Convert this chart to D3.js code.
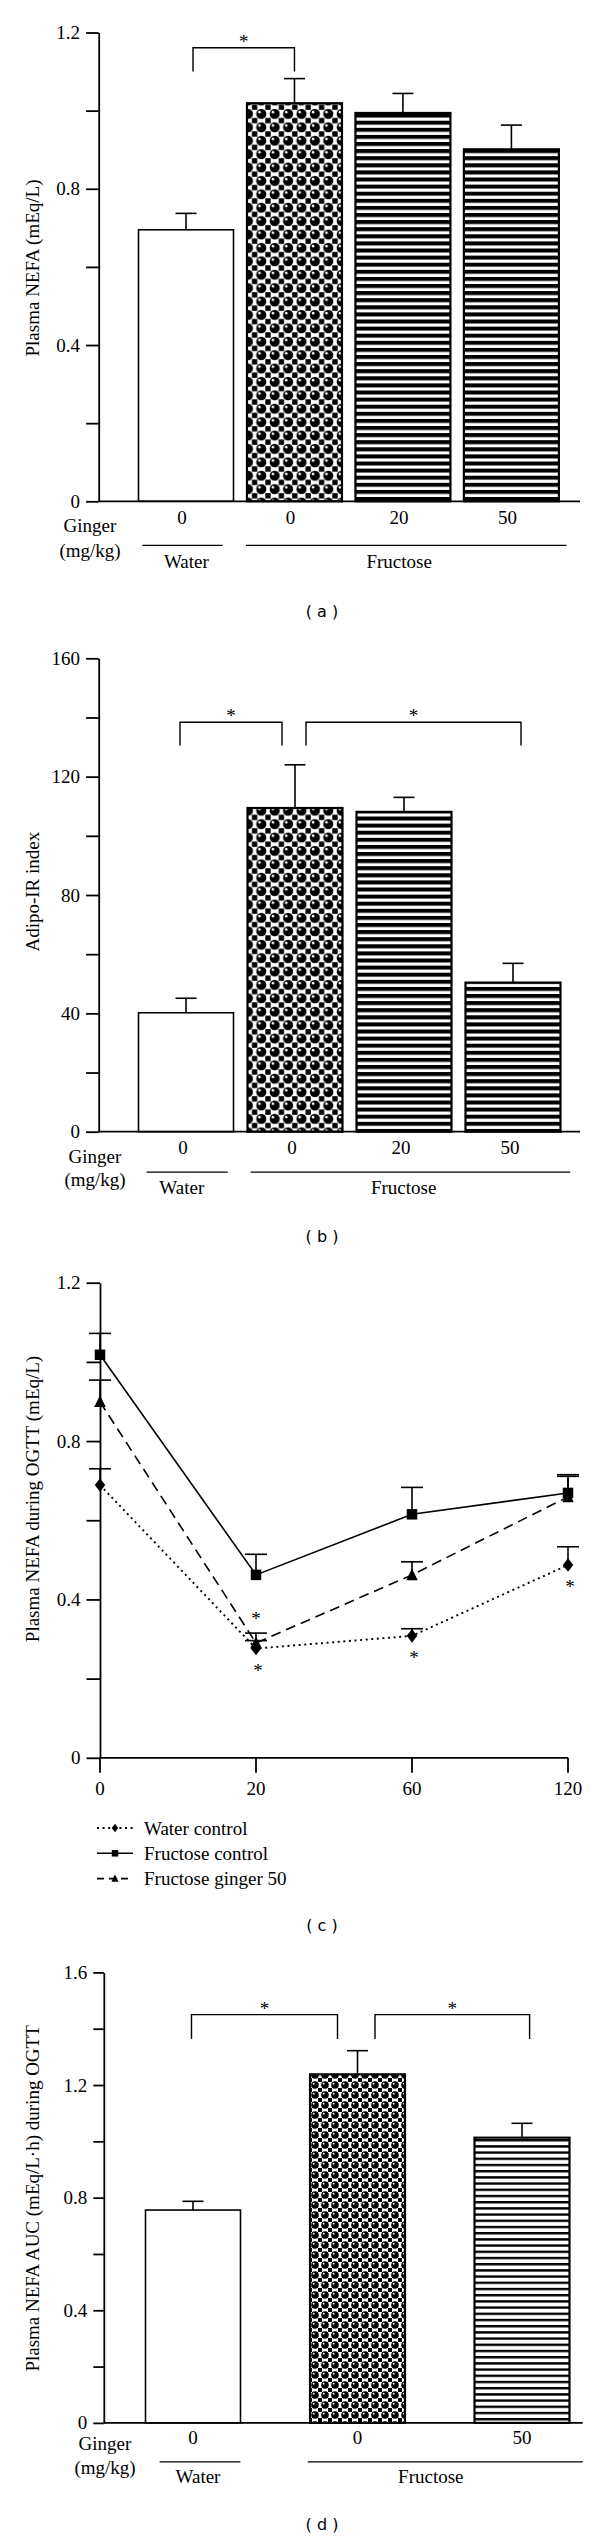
<!DOCTYPE html>
<html><head><meta charset="utf-8">
<script src="https://cdn.jsdelivr.net/npm/d3@7/dist/d3.min.js"></script>
<style>body{margin:0;background:#fff}</style>
</head><body><svg id="c" width="600" height="2541"></svg>
<script>
// ---------- DATA ----------
const groupsA = ["Water 0", "Fructose 0", "Fructose 20", "Fructose 50"];
const doseLabelsA = ["0", "0", "20", "50"];
const nefaMean = [0.695, 1.019, 0.994, 0.901];
const nefaSem = [0.042, 0.063, 0.050, 0.062];
const adipoMean = [40.2, 109.4, 108.1, 50.4];
const adipoSem = [4.9, 14.6, 4.9, 6.5];

const timePoints = ["0", "20", "60", "120"];
const seriesNames = ["Water control", "Fructose control", "Fructose ginger 50"];
const waterCtl = [0.689, 0.276, 0.308, 0.487];
const waterCtlSem = [0.041, 0.020, 0.018, 0.046];
const fructCtl = [1.018, 0.462, 0.615, 0.669];
const fructCtlSem = [0.054, 0.052, 0.068, 0.046];
const fructGinger = [0.899, 0.290, 0.462, 0.659];
const fructGingerSem = [0.055, 0.025, 0.033, 0.052];

const groupsD = ["Water 0", "Fructose 0", "Fructose 50"];
const doseLabelsD = ["0", "0", "50"];
const aucMean = [0.756, 1.238, 1.013];
const aucSem = [0.031, 0.084, 0.051];

const ticksA = [0, 0.2, 0.4, 0.6, 0.8, 1.0, 1.2];
const labelsA = [0, 0.4, 0.8, 1.2];
const ticksB = [0, 20, 40, 60, 80, 100, 120, 140, 160];
const labelsB = [0, 40, 80, 120, 160];
const ticksC = [0, 0.2, 0.4, 0.6, 0.8, 1.0, 1.2];
const labelsC = [0, 0.4, 0.8, 1.2];
const ticksD = [0, 0.2, 0.4, 0.6, 0.8, 1.0, 1.2, 1.4, 1.6];
const labelsD = [0, 0.4, 0.8, 1.2, 1.6];

// ---------- DRAWING ----------
const SERIF = "'Liberation Serif','DejaVu Serif',serif";
const SANS = "'DejaVu Sans','Liberation Sans',sans-serif";
const FS = 19;
const svg = d3.select("#c");
svg.append("rect").attr("width", 600).attr("height", 2541).attr("fill", "#fff");
const defs = svg.append("defs");

function dotPattern(id, s, r) {
  const p = defs.append("pattern").attr("id", id).attr("patternUnits", "userSpaceOnUse")
    .attr("width", s).attr("height", s);
  p.append("rect").attr("width", s).attr("height", s).attr("fill", "#fff");
  const q = s * 0.2;
  [[0, 0], [s - q, 0], [0, s - q], [s - q, s - q]].forEach(([x, y]) =>
    p.append("rect").attr("x", x).attr("y", y).attr("width", q).attr("height", q).attr("fill", "#000"));
  p.append("circle").attr("cx", s / 2).attr("cy", s / 2).attr("r", r).attr("fill", "#000");
  p.append("circle").attr("cx", s / 2 - r * 0.35).attr("cy", s / 2 - r * 0.35).attr("r", r * 0.25).attr("fill", "#fff");
}
function stripePattern(id, period, black) {
  const p = defs.append("pattern").attr("id", id).attr("patternUnits", "userSpaceOnUse")
    .attr("width", 10).attr("height", period);
  p.append("rect").attr("width", 10).attr("height", period).attr("fill", "#fff");
  p.append("rect").attr("y", 0).attr("width", 10).attr("height", black).attr("fill", "#000");
}
dotPattern("dotsL", 13.4, 5.1);
dotPattern("dotsS", 10, 3.8);
stripePattern("stripesL", 7.1, 4);
stripePattern("stripesS", 6.2, 2.4);

function yAxis(g, y, x0, ticks, labels, tickLen, fmt) {
  const ax = d3.axisLeft(y).tickValues(ticks).tickSize(tickLen).tickSizeOuter(0).tickPadding(6)
    .tickFormat(d => labels.some(l => Math.abs(l - d) < 1e-9) ? fmt(d) : "");
  const a = g.append("g").attr("transform", `translate(${x0},0)`).call(ax);
  a.selectAll("path,line").attr("stroke", "#000").attr("stroke-width", 1.8);
  a.selectAll("text").attr("font-family", SERIF).attr("font-size", FS).attr("fill", "#000");
  return a;
}
function yTitle(g, text, cx, cy) {
  g.append("text").attr("transform", `translate(${cx},${cy}) rotate(-90)`)
    .attr("text-anchor", "middle").attr("dominant-baseline", "central")
    .attr("font-family", SERIF).attr("font-size", FS).text(text);
}
function star(g, x, cy) {
  g.append("text").attr("x", x).attr("y", cy + 10).attr("text-anchor", "middle")
    .attr("font-family", SERIF).attr("font-size", FS).text("*");
}
function panelLabel(letter, cy) {
  svg.append("text").attr("x", 322).attr("y", cy).attr("text-anchor", "middle")
    .attr("dominant-baseline", "central").attr("font-family", SANS).attr("font-size", 16)
    .text(`( ${letter} )`);
}
const fmt1 = d => d === 0 ? "0" : d3.format(".1f")(d);
const fmt0 = d => String(d);

function barPanel(c) {
  const g = svg.append("g");
  const y = d3.scaleLinear().domain([0, c.yMax]).range([c.y0, c.yTop]);
  const x = d3.scalePoint().domain(c.cats).range(c.xRange);
  g.selectAll("rect.bar").data(c.cats).join("rect")
    .attr("x", d => x(d) - c.barW / 2).attr("width", c.barW)
    .attr("y", (d, i) => y(c.mean[i])).attr("height", (d, i) => y(0) - y(c.mean[i]))
    .attr("fill", (d, i) => c.fills[i]).attr("stroke", "#000").attr("stroke-width", (d, i) => i === 0 ? 1.6 : 2.2);
  g.selectAll("line.err").data(c.cats).join("line")
    .attr("x1", d => x(d)).attr("x2", d => x(d))
    .attr("y1", (d, i) => y(c.mean[i])).attr("y2", (d, i) => y(c.mean[i] + c.sem[i]))
    .attr("stroke", "#000").attr("stroke-width", 1.6);
  g.selectAll("line.cap").data(c.cats).join("line")
    .attr("x1", d => x(d) - 10.5).attr("x2", d => x(d) + 10.5)
    .attr("y1", (d, i) => y(c.mean[i] + c.sem[i])).attr("y2", (d, i) => y(c.mean[i] + c.sem[i]))
    .attr("stroke", "#000").attr("stroke-width", 1.6);
  yAxis(g, y, c.axisX, c.ticks, c.labels, c.tickLen, c.fmt);
  g.append("line").attr("x1", c.axisX).attr("x2", c.xRight).attr("y1", y(0)).attr("y2", y(0))
    .attr("stroke", "#000").attr("stroke-width", 1.8);
  yTitle(g, c.title, c.titleX, c.titleY);
  c.brackets.forEach(b => {
    const x1 = x(c.cats[b.from]) + b.dx1, x2 = x(c.cats[b.to]) + b.dx2;
    g.append("path").attr("d", `M${x1},${y(b.leg)}V${y(b.top)}H${x2}V${y(b.leg)}`)
      .attr("fill", "none").attr("stroke", "#000").attr("stroke-width", 1.4);
    star(g, (x1 + x2) / 2, y(b.top) - 10);
  });
  g.selectAll("text.dose").data(c.cats).join("text")
    .attr("x", d => x(d) + c.doseDx).attr("y", c.y0 + c.doseDy).attr("text-anchor", "middle")
    .attr("font-family", SERIF).attr("font-size", FS).text((d, i) => c.doseLabels[i]);
  g.append("text").attr("x", c.gingerX).attr("y", c.y0 + c.gingerDy).attr("text-anchor", "middle")
    .attr("font-family", SERIF).attr("font-size", FS).text("Ginger");
  g.append("text").attr("x", c.gingerX).attr("y", c.y0 + c.mgDy).attr("text-anchor", "middle")
    .attr("font-family", SERIF).attr("font-size", FS).text("(mg/kg)");
  c.groups.forEach(gr => {
    g.append("line").attr("x1", gr.x1).attr("x2", gr.x2).attr("y1", c.y0 + c.lineDy).attr("y2", c.y0 + c.lineDy)
      .attr("stroke", "#000").attr("stroke-width", 1.2);
    g.append("text").attr("x", gr.cx).attr("y", c.y0 + c.groupDy).attr("text-anchor", "middle")
      .attr("font-family", SERIF).attr("font-size", FS).text(gr.name);
  });
}

// Panel (a)
barPanel({
  cats: groupsA, doseLabels: doseLabelsA, mean: nefaMean, sem: nefaSem,
  yMax: 1.2, y0: 501.3, yTop: 32.5, axisX: 98.7, xRight: 580, xRange: [186, 511.4], barW: 95,
  ticks: ticksA, labels: labelsA, tickLen: 12.6, fmt: fmt1,
  fills: ["#fff", "url(#dotsL)", "url(#stripesL)", "url(#stripesL)"],
  title: "Plasma NEFA (mEq/L)", titleX: 32.5, titleY: 268,
  brackets: [{ from: 0, to: 1, dx1: 7, dx2: 0, top: 1.161, leg: 1.1 }],
  doseDx: -4, doseDy: 23, gingerX: 90, gingerDy: 31, mgDy: 56, lineDy: 44, groupDy: 67,
  groups: [{ name: "Water", x1: 142.4, x2: 222.7, cx: 186.4 }, { name: "Fructose", x1: 246, x2: 566.4, cx: 399.2 }]
});
panelLabel("a", 611);

// Panel (b)
barPanel({
  cats: groupsA, doseLabels: doseLabelsA, mean: adipoMean, sem: adipoSem,
  yMax: 160, y0: 1131.7, yTop: 658.3, axisX: 98.7, xRight: 580, xRange: [186, 513], barW: 95,
  ticks: ticksB, labels: labelsB, tickLen: 12.6, fmt: fmt0,
  fills: ["#fff", "url(#dotsL)", "url(#stripesL)", "url(#stripesL)"],
  title: "Adipo-IR index", titleX: 32.5, titleY: 891.7,
  brackets: [{ from: 0, to: 1, dx1: -6, dx2: -13, top: 138.4, leg: 130.5 },
             { from: 1, to: 3, dx1: 11, dx2: 8, top: 138.4, leg: 130.5 }],
  doseDx: -3, doseDy: 22, gingerX: 95, gingerDy: 31.5, mgDy: 54, lineDy: 40.5, groupDy: 62,
  groups: [{ name: "Water", x1: 146.6, x2: 227.7, cx: 181.8 }, { name: "Fructose", x1: 250.7, x2: 570.2, cx: 403.7 }]
});
panelLabel("b", 1236);

// Panel (c)
(function () {
  const g = svg.append("g");
  const y = d3.scaleLinear().domain([0, 1.2]).range([1757.8, 1282.7]);
  const x = d3.scalePoint().domain(timePoints).range([100, 568]);
  const series = [
    { name: seriesNames[0], v: waterCtl, e: waterCtlSem, dash: "2,3.6", sym: "diamond", lw: 1.9 },
    { name: seriesNames[1], v: fructCtl, e: fructCtlSem, dash: null, sym: "square", lw: 1.6 },
    { name: seriesNames[2], v: fructGinger, e: fructGingerSem, dash: "10,6", sym: "triangle", lw: 1.6 }
  ];
  function symPath(sym, s) {
    if (sym === "square") return `M${-s / 2},${-s / 2}h${s}v${s}h${-s}Z`;
    if (sym === "diamond") return `M0,${-s * 0.65}L${s * 0.5},0L0,${s * 0.65}L${-s * 0.5},0Z`;
    return `M0,${-s * 0.62}L${s * 0.55},${s * 0.5}L${-s * 0.55},${s * 0.5}Z`;
  }
  const line = d3.line().x((d, i) => x(timePoints[i])).y(d => y(d));
  series.forEach(s => {
    g.append("path").attr("d", line(s.v)).attr("fill", "none").attr("stroke", "#000")
      .attr("stroke-width", s.lw).attr("stroke-dasharray", s.dash);
  });
  series.forEach(s => {
    timePoints.forEach((t, i) => {
      const cx = x(t), top = y(s.v[i] + s.e[i]);
      g.append("line").attr("x1", cx).attr("x2", cx).attr("y1", y(s.v[i])).attr("y2", top)
        .attr("stroke", "#000").attr("stroke-width", 1.6);
      g.append("line").attr("x1", cx - 11).attr("x2", cx + 11).attr("y1", top).attr("y2", top)
        .attr("stroke", "#000").attr("stroke-width", 1.6);
    });
  });
  series.forEach(s => {
    timePoints.forEach((t, i) => {
      g.append("path").attr("d", symPath(s.sym, 10.5))
        .attr("transform", `translate(${x(t)},${y(s.v[i])})`).attr("fill", "#000");
    });
  });
  yAxis(g, y, 100, ticksC, labelsC, 13.5, fmt1);
  g.append("line").attr("x1", 100).attr("x2", 568).attr("y1", y(0)).attr("y2", y(0))
    .attr("stroke", "#000").attr("stroke-width", 1.8);
  timePoints.forEach(t => {
    g.append("line").attr("x1", x(t)).attr("x2", x(t)).attr("y1", y(0)).attr("y2", y(0) + 15)
      .attr("stroke", "#000").attr("stroke-width", 1.8);
    g.append("text").attr("x", x(t)).attr("y", 1795).attr("text-anchor", "middle")
      .attr("font-family", SERIF).attr("font-size", FS).text(t);
  });
  yTitle(g, "Plasma NEFA during OGTT (mEq/L)", 32.7, 1499);
  star(g, x("20"), y(fructGinger[1] + fructGingerSem[1]) - 18);
  ["20", "60", "120"].forEach(t => {
    const i = timePoints.indexOf(t);
    star(g, x(t) + 2, y(waterCtl[i]) + 18);
  });
  series.forEach((s, k) => {
    const ly = 1828 + k * 25.3;
    g.append("line").attr("x1", 97).attr("x2", 133).attr("y1", ly).attr("y2", ly)
      .attr("stroke", "#000").attr("stroke-width", s.lw).attr("stroke-dasharray", s.dash ? (k === 0 ? "2,3.6" : "7,5") : null);
    g.append("path").attr("d", symPath(s.sym, 6.5)).attr("transform", `translate(115,${ly})`).attr("fill", "#000");
    g.append("text").attr("x", 144).attr("y", ly).attr("dominant-baseline", "central")
      .attr("font-family", SERIF).attr("font-size", FS).text(s.name);
  });
})();
panelLabel("c", 1925);

// Panel (d)
barPanel({
  cats: groupsD, doseLabels: doseLabelsD, mean: aucMean, sem: aucSem,
  yMax: 1.6, y0: 2422.9, yTop: 1972.4, axisX: 103.8, xRight: 582.7, xRange: [193, 522], barW: 95,
  ticks: ticksD, labels: labelsD, tickLen: 10.5, fmt: fmt1,
  fills: ["#fff", "url(#dotsS)", "url(#stripesS)"],
  title: "Plasma NEFA AUC (mEq/L\u00B7h) during OGTT", titleX: 32.7, titleY: 2198.4,
  brackets: [{ from: 0, to: 1, dx1: -1.5, dx2: -20, top: 1.45, leg: 1.3635 },
             { from: 1, to: 2, dx1: 17.5, dx2: 7.6, top: 1.45, leg: 1.3635 }],
  doseDx: 0, doseDy: 21, gingerX: 105, gingerDy: 27, mgDy: 51.5, lineDy: 39, groupDy: 60,
  groups: [{ name: "Water", x1: 159.6, x2: 240.4, cx: 198 }, { name: "Fructose", x1: 307.7, x2: 582.7, cx: 430.8 }]
});
panelLabel("d", 2524);
</script>
</body></html>
